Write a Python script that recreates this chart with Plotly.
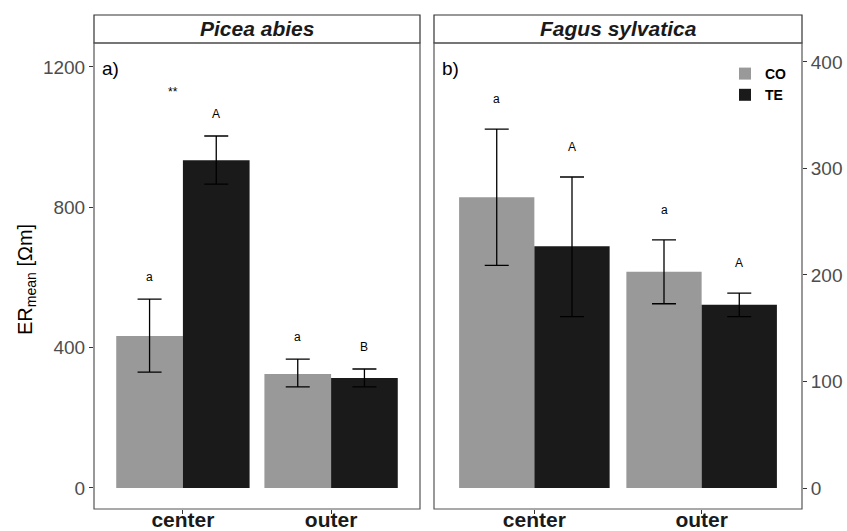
import plotly.graph_objects as go

positions = ["center", "outer"]
groups = ["CO", "TE"]
colors = {"CO": "#999999", "TE": "#1a1a1a"}

# Picea abies (left panel)
picea_mean = {"CO": [433, 325], "TE": [934, 313]}
picea_upper = {"CO": [538, 367], "TE": [1003, 339]}
picea_lower = {"CO": [330, 288], "TE": [866, 288]}
picea_letters = {"CO": ["a", "a"], "TE": ["A", "B"]}

# Fagus sylvatica (right panel)
fagus_mean = {"CO": [273, 203], "TE": [227, 172]}
fagus_upper = {"CO": [337, 233], "TE": [292, 183]}
fagus_lower = {"CO": [209, 173], "TE": [161, 161]}
fagus_letters = {"CO": ["a", "a"], "TE": ["A", "A"]}

left_ticks = [0, 400, 800, 1200]
right_ticks = [0, 100, 200, 300, 400]

W, H = 847, 531
xl0, xl1 = 94 / W, 420 / W
xr0, xr1 = 434 / W, 802 / W
yb, yt = 1 - 509 / H, 1 - 43 / H
ys = 1 - 15 / H

FONT = "Liberation Sans, Arial, sans-serif"

fig = go.Figure()
for panel, (means, ups, lows, xa, ya) in enumerate([
        (picea_mean, picea_upper, picea_lower, "x", "y"),
        (fagus_mean, fagus_upper, fagus_lower, "x2", "y2")]):
    for g in groups:
        m = means[g]
        fig.add_trace(go.Bar(
            x=positions, y=m, name=f"<b>{g}</b>", marker_color=colors[g],
            marker_line_width=0, offsetgroup=g,
            xaxis=xa, yaxis=ya, showlegend=(panel == 1),
            error_y=dict(type="data", symmetric=False,
                         array=[u - v for u, v in zip(ups[g], m)],
                         arrayminus=[v - l for v, l in zip(m, lows[g])],
                         color="black", thickness=1.3, width=12),
        ))

annotations = []
# significance letters
for letters, ups, xa, ya, shift in [
        (picea_letters, picea_upper, "x", "y", 22),
        (fagus_letters, fagus_upper, "x2", "y2", 30)]:
    for gi, g in enumerate(groups):
        for pi, p in enumerate(positions):
            annotations.append(dict(
                x=pi + (-0.225 if gi == 0 else 0.225), y=ups[g][pi],
                xref=xa, yref=ya, text=letters[g][pi], showarrow=False,
                yshift=shift, font=dict(size=12, color="black", family=FONT)))
annotations.append(dict(x=0, y=1128, xref="x", yref="y", text="**", xshift=-10,
                        showarrow=False, font=dict(size=12, color="black", family=FONT)))
# panel labels
for x0, lab in [(xl0, "a)"), (xr0, "b)")]:
    annotations.append(dict(x=x0 + 6 / W, y=1 - 68 / H, xref="paper", yref="paper", text=lab,
                            xanchor="left", yanchor="middle", showarrow=False,
                            font=dict(size=19, color="black", family=FONT)))
# strip titles
for x0, x1, txt in [(xl0, xl1, "Picea abies"), (xr0, xr1, "Fagus sylvatica")]:
    annotations.append(dict(x=(x0 + x1) / 2, y=(yt + ys) / 2, xref="paper", yref="paper",
                            xanchor="center", yanchor="middle",
                            text=f"<b><i>{txt}</i></b>", showarrow=False,
                            font=dict(size=21, color="#1a1a1a", family=FONT)))
# y title
annotations.append(dict(x=26 / W, y=1 - 280 / H, xref="paper", yref="paper",
                        xanchor="center", yanchor="middle",
                        text="ER<sub>mean</sub> [Ωm]", textangle=-90, showarrow=False,
                        font=dict(size=20, color="black", family=FONT)))

shapes = []
for x0, x1 in [(xl0, xl1), (xr0, xr1)]:
    shapes.append(dict(type="rect", xref="paper", yref="paper", x0=x0, x1=x1, y0=yb, y1=yt,
                       line=dict(color="#555555", width=1.2), fillcolor="rgba(0,0,0,0)"))
    shapes.append(dict(type="rect", xref="paper", yref="paper", x0=x0, x1=x1, y0=yt, y1=ys,
                       layer="below",
                       line=dict(color="#333333", width=1.2), fillcolor="white"))

xcommon = dict(showgrid=False, zeroline=False, ticks="outside", ticklen=4, tickcolor="#333333",
               tickfont=dict(size=21, color="#1a1a1a", family=FONT), range=[-0.6, 1.6],
               categoryorder="array", categoryarray=positions, automargin=False,
               tickprefix="<b>", ticksuffix="</b>", ticklabelstandoff=-12)
ycommon = dict(showgrid=False, zeroline=False, ticks="outside", ticklen=4, tickcolor="#333333",
               tickfont=dict(size=19, color="#4d4d4d", family=FONT), automargin=False)

fig.update_layout(
    width=W, height=H, margin=dict(l=0, r=0, t=0, b=0),
    plot_bgcolor="white", paper_bgcolor="white",
    barmode="group", bargap=0.1, bargroupgap=0,
    xaxis=dict(domain=[xl0, xl1], anchor="y", **xcommon),
    xaxis2=dict(domain=[xr0, xr1], anchor="y2", **xcommon),
    yaxis=dict(domain=[yb, yt], anchor="x", range=[-60, 1268], tickvals=left_ticks, **ycommon),
    yaxis2=dict(domain=[yb, yt], anchor="x2", side="right", range=[-19.7, 417.8],
                tickvals=right_ticks, **ycommon),
    legend=dict(x=xr1 - 10 / W, y=1 - 58 / H, xanchor="right", yanchor="top",
                bgcolor="rgba(0,0,0,0)", font=dict(size=14, color="black", family=FONT),
                itemwidth=30, tracegroupgap=0),
    annotations=annotations, shapes=shapes,
)

fig.write_html("out.html")
